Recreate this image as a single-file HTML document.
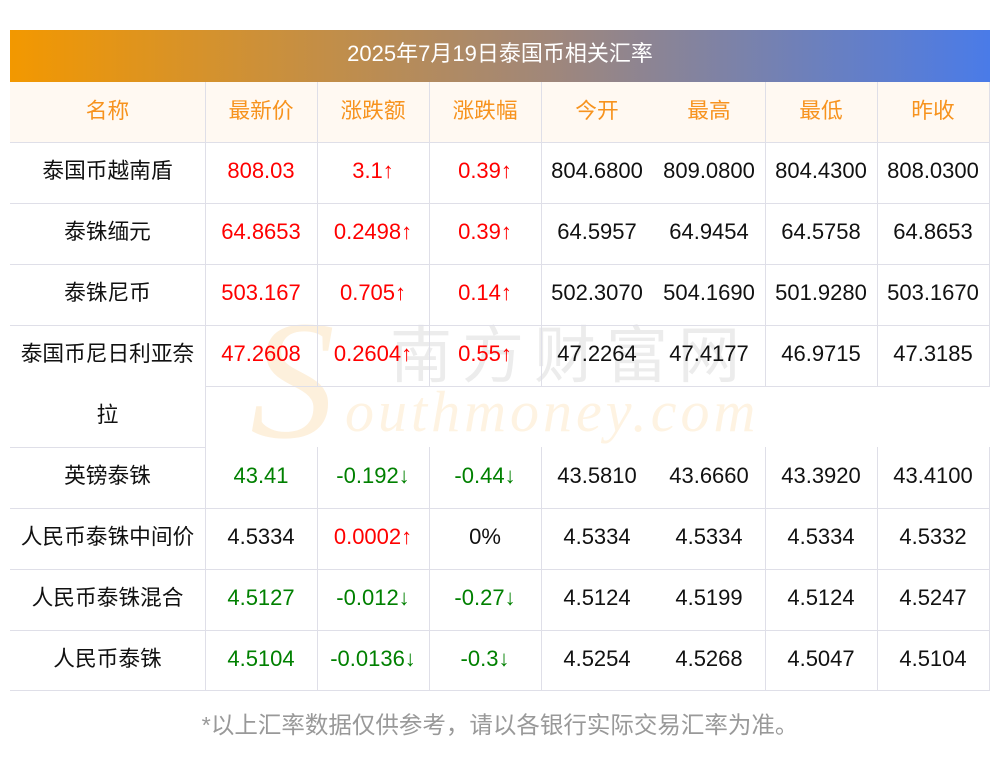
<!DOCTYPE html>
<html><head><meta charset="utf-8"><style>
body{margin:0;width:1000px;height:757px;background:#fff;position:relative;overflow:hidden;font-family:"Liberation Sans","Noto Sans CJK SC",sans-serif;}
.a{position:absolute}
.c{position:absolute;text-align:center;font-size:22px;line-height:58px;height:61px;color:#111;white-space:nowrap}
.n{font-size:21.7px}
.h{color:#f7931e;font-size:21.7px}
.r{color:#ff0000}.g{color:#008000}
.ln{position:absolute;background:#dfdfe8}
</style></head><body>
<div class="a" style="left:10px;top:30px;width:980px;height:52px;background:linear-gradient(90deg,#f39800,#a0877a 55%,#4a7be8);color:#fff;font-size:22px;line-height:48px;text-align:center">2025年7月19日泰国币相关汇率</div>
<div class="a" style="left:10px;top:82px;width:980px;height:60px;background:#fff9f2"></div>
<div class="a" style="left:250px;top:300px;font-size:170px;font-family:'Liberation Serif',serif;font-style:italic;color:#fdf0dc;line-height:160px">S</div>
<div class="a" style="left:390px;top:322px;font-size:62px;letter-spacing:10px;color:#ececec;line-height:70px">南方财富网</div>
<div class="a" style="left:345px;top:382px;font-size:58px;font-family:'Liberation Serif',serif;font-style:italic;color:#fef3e2;letter-spacing:4px;line-height:60px">outhmoney.com</div>
<div id="t"></div>
<div class="a" style="left:0;top:706px;width:1000px;text-align:center;font-size:23.5px;color:#999">*以上汇率数据仅供参考，请以各银行实际交易汇率为准。</div>
<script>
const headers=["名称","最新价","涨跌额","涨跌幅","今开","最高","最低","昨收"];
const rows=[
["泰国币越南盾","808.03","3.1↑","0.39↑","804.6800","809.0800","804.4300","808.0300"],
["泰铢缅元","64.8653","0.2498↑","0.39↑","64.5957","64.9454","64.5758","64.8653"],
["泰铢尼币","503.167","0.705↑","0.14↑","502.3070","504.1690","501.9280","503.1670"],
["泰国币尼日利亚奈","47.2608","0.2604↑","0.55↑","47.2264","47.4177","46.9715","47.3185"],
["英镑泰铢","43.41","-0.192↓","-0.44↓","43.5810","43.6660","43.3920","43.4100"],
["人民币泰铢中间价","4.5334","0.0002↑","0%","4.5334","4.5334","4.5334","4.5332"],
["人民币泰铢混合","4.5127","-0.012↓","-0.27↓","4.5124","4.5199","4.5124","4.5247"],
["人民币泰铢","4.5104","-0.0136↓","-0.3↓","4.5254","4.5268","4.5047","4.5104"]];
const priceColor=["r","r","r","r","g","","g","g"];
const xs=[10,205,317,429,541,653,765,877,989];
const rowTops=[142,203,264,325,447,508,569,630];
const t=document.getElementById('t');
function cell(txt,x,w,y,cls,name){const d=document.createElement('div');d.className='c '+cls;d.style.left=x+'px';d.style.width=w+'px';d.style.top=y+'px';d.textContent=txt;


t.appendChild(d);}
headers.forEach((h,i)=>cell(h,xs[i],xs[i+1]-xs[i],82,'h','header-'+i));
rows.forEach((r,ri)=>{r.forEach((v,ci)=>{let cls='';
if(ci===0)cls='n';
else if(ci===1)cls=priceColor[ri];
else if(ci<=3)cls=v.includes('↑')?'r':v.includes('↓')?'g':'';
cell(v,xs[ci],xs[ci+1]-xs[ci],rowTops[ri],cls,'cell-r'+ri+'-c'+ci);});});
cell('拉',10,195,386,'n','cell-name-wrap');
function ln(x,y,w,h,n){const d=document.createElement('div');d.className='ln';d.style.left=x+'px';d.style.top=y+'px';d.style.width=w+'px';d.style.height=h+'px';


t.appendChild(d);}
[142,203,264,325,508,569,630,690].forEach(y=>ln(10,y,980,1,'row-line'));
ln(205,386,785,1,'row-line');ln(10,447,195,1,'row-line');
[205,317,429,541,765,877,989].forEach(x=>{ln(x,82,1,304,'col-line');ln(x,447,1,244,'col-line');});
ln(205,386,1,61,'col-line');
</script>
</body></html>
